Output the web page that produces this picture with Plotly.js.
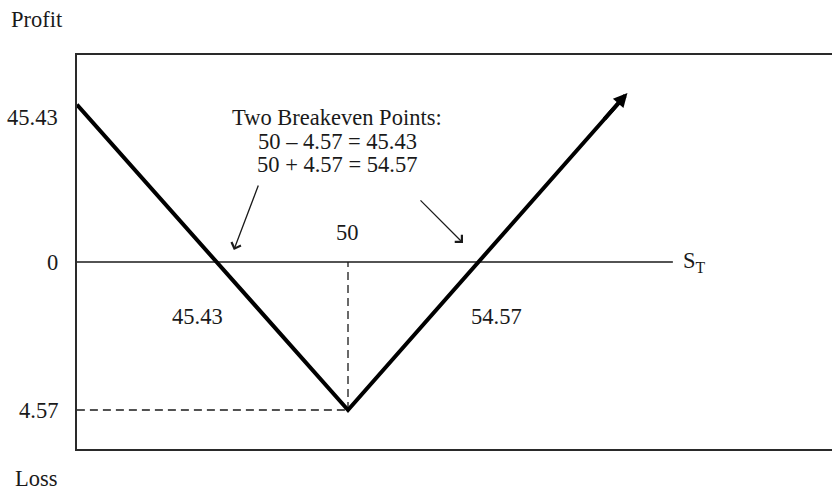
<!DOCTYPE html>
<html>
<head>
<meta charset="utf-8">
<script src="https://cdn.plot.ly/plotly-3.0.1.min.js"></script>
<style>html,body{margin:0;padding:0;background:#fff;}#chart{width:832px;height:490px;}</style>
</head>
<body>
<div id="chart"></div>
<script>
// ---- data ----
const strike = 50;
const premium = 4.57;
const breakevens = [45.43, 54.57];
const payoffX = [40.57, 50, 59.72];
const payoffY = [4.86, -4.57, 5.22];
const zeroLineX = [40.57, 61.3];
const yLabelVals = [4.45, 0, -4.57];
const yLabelText = ['45.43', '0', '4.57'];
const noteLines = ['Two Breakeven Points:', '50 \u2013 4.57 = 45.43', '50 + 4.57 = 54.57'];
const noteY = [4.45, 3.71, 3.0];
const pointerTailX = [46.9, 52.47];
const pointerTailY = [2.41, 1.95];
const pointerHeadX = [46.03, 54.0];
const pointerHeadY = [0.37, 0.59];
const beLabelX = [44.78, 55.15];
const beLabelY = -1.67;

const FONT = '"Liberation Serif", "Times New Roman", serif';
const fs = 22.5;
const col = '#1a1a1a';

const n = payoffX.length;
const lineX = payoffX.slice(); const lineY = payoffY.slice();
const dx = payoffX[n-1]-payoffX[n-2], dy = payoffY[n-1]-payoffY[n-2];
const L = Math.hypot(dx, dy);
lineX[n-1] -= dx/L*0.25; lineY[n-1] -= dy/L*0.25;

const traces = [
  {x: zeroLineX, y: [0, 0], mode: 'lines', line: {color: col, width: 1.5}, hoverinfo: 'skip'},
  {x: [strike, strike], y: [-premium, 0], mode: 'lines', line: {color: col, width: 1.3, dash: '8px,5px'}, hoverinfo: 'skip'},
  {x: [payoffX[0], strike], y: [-premium, -premium], mode: 'lines', line: {color: col, width: 1.3, dash: '8px,5px'}, hoverinfo: 'skip'},
  {x: lineX, y: lineY, mode: 'lines', line: {color: '#000', width: 4}, hoverinfo: 'skip'}
];

const ann = [];
const txt = (t, x, y, xref, yref, xanchor, extra) => Object.assign({text: t, x: x, y: y, xref: xref, yref: yref,
  xanchor: xanchor || 'center', yanchor: 'middle', showarrow: false, font: {family: FONT, size: fs, color: col}}, extra || {});

ann.push(txt('Profit', -0.053, 1.089, 'paper', 'paper'));
ann.push(txt('Loss', -0.053, -0.076, 'paper', 'paper'));
yLabelVals.forEach((v, i) => ann.push(txt(yLabelText[i], -0.0225, v, 'paper', 'y', 'right')));
noteLines.forEach((t, i) => ann.push(txt(t, 49.62, noteY[i], 'x', 'y')));
ann.push(txt(String(strike), 49.97, 0.9, 'x', 'y'));
breakevens.forEach((b, i) => ann.push(txt(b.toFixed(2), beLabelX[i], beLabelY, 'x', 'y')));
ann.push(txt('S<sub>T</sub>', 61.6, 0.0, 'x', 'y', 'left'));

pointerTailX.forEach((tx, i) => ann.push({x: pointerHeadX[i], y: pointerHeadY[i], ax: tx, ay: pointerTailY[i],
  xref: 'x', yref: 'y', axref: 'x', ayref: 'y', text: '', showarrow: true,
  arrowhead: 4, arrowsize: 1.5, arrowwidth: 1.3, arrowcolor: col}));
ann.push({x: payoffX[n-1], y: payoffY[n-1], ax: payoffX[n-1] - dx/L*1.2, ay: payoffY[n-1] - dy/L*1.2,
  xref: 'x', yref: 'y', axref: 'x', ayref: 'y', text: '', showarrow: true,
  arrowhead: 2, arrowsize: 0.7, arrowwidth: 4, arrowcolor: '#000'});

const layout = {
  width: 832, height: 490,
  margin: {l: 77, r: 0, t: 55, b: 41},
  paper_bgcolor: '#fff', plot_bgcolor: '#fff',
  showlegend: false,
  xaxis: {range: [40.574, 66.835], showgrid: false, zeroline: false, showticklabels: false, ticks: '',
          showline: true, mirror: true, linecolor: '#2a2a2a', linewidth: 2, fixedrange: true},
  yaxis: {range: [-5.774, 6.392], showgrid: false, zeroline: false, showticklabels: false, ticks: '',
          showline: true, mirror: false, linecolor: '#2a2a2a', linewidth: 2, fixedrange: true},
  annotations: ann
};

Plotly.newPlot('chart', traces, layout, {staticPlot: true, displayModeBar: false});
</script>
</body>
</html>
